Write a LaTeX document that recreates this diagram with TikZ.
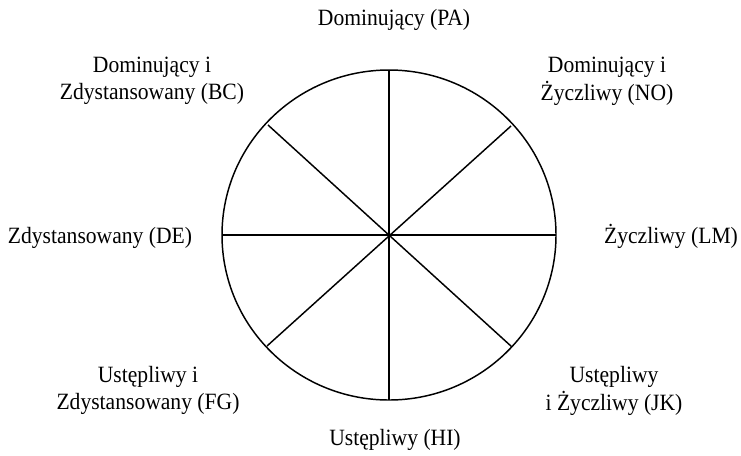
\documentclass[tikz,border=0pt]{standalone}
\usepackage{fontspec}
\setmainfont{Liberation Serif}
\newcommand{\txtbox}[1]{\scalebox{1}[1.08]{\begin{tabular}{@{}c@{}}#1\end{tabular}}}
\begin{document}
\begin{tikzpicture}[x=0.75pt,y=-0.75pt,
  lbl/.style={font=\fontsize{16.2}{18.8}\selectfont,inner sep=0pt},
  wheel/.style={line width=1.1pt,black}]
\useasboundingbox (0,0) rectangle (741,455);
\coordinate (c) at (389,235);
\draw[wheel] (c) ellipse [x radius=167, y radius=165];
\coordinate (n) at (389,70);
\coordinate (s) at (389,400);
\coordinate (w) at (222,235);
\coordinate (e) at (556,235);
\coordinate (nw) at (268,125);
\coordinate (ne) at (511,126);
\coordinate (sw) at (267,346);
\coordinate (se) at (512,347);
\draw[wheel] (n) -- (s);
\draw[wheel] (w) -- (e);
\draw[wheel] (nw) -- (se);
\draw[wheel] (ne) -- (sw);
\renewcommand{\arraystretch}{1}
\node[lbl] (pa) at (394,20) {\txtbox{Dominujący (PA)}};
\node[lbl] (bc) at (152,81) {\txtbox{Dominujący i\\Zdystansowany (BC)}};
\node[lbl] (no) at (607,81) {\txtbox{Dominujący i\\Życzliwy (NO)}};
\node[lbl] (de) at (100,238) {\txtbox{Zdystansowany (DE)}};
\node[lbl] (lm) at (671,238) {\txtbox{Życzliwy (LM)}};
\node[lbl] (fg) at (148,391) {\txtbox{Ustępliwy i\\Zdystansowany (FG)}};
\node[lbl] (jk) at (614,391) {\txtbox{Ustępliwy\\i Życzliwy (JK)}};
\node[lbl] (hi) at (395,440) {\txtbox{Ustępliwy (HI)}};
\end{tikzpicture}
\end{document}
